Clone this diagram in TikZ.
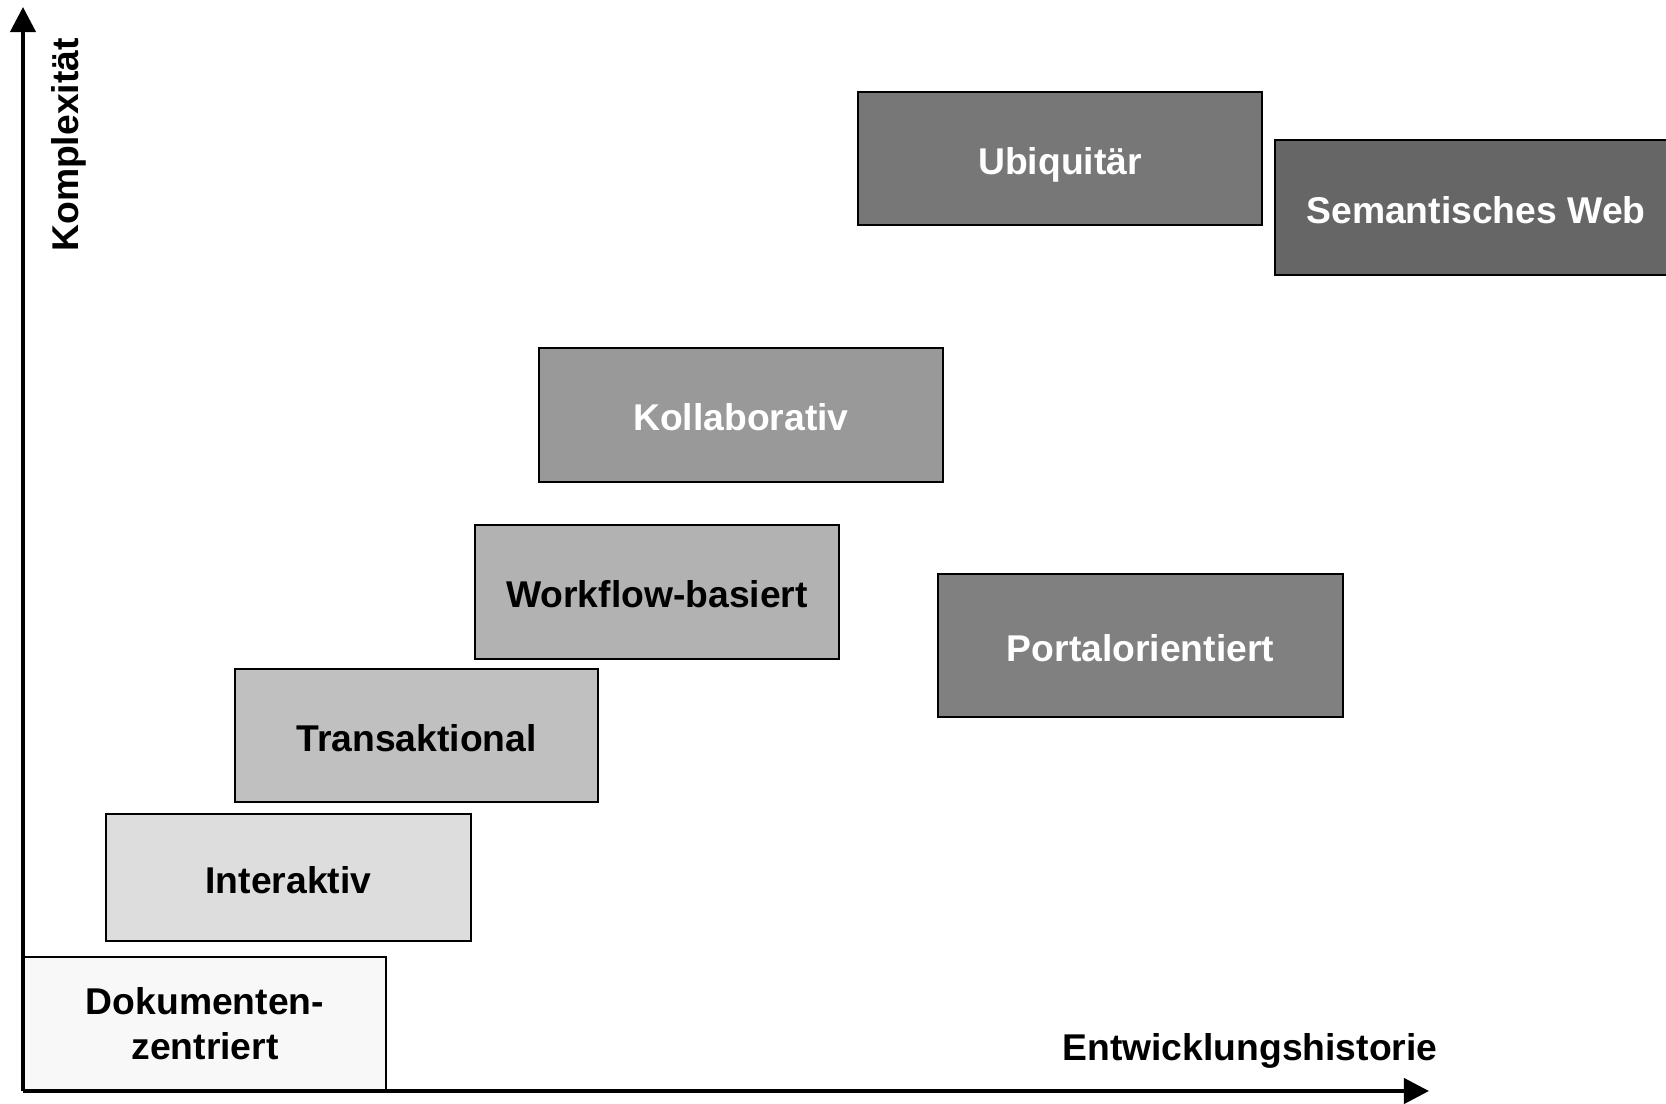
\documentclass[tikz,border=0pt]{standalone}
\usepackage{fontspec}
\setmainfont{Liberation Sans}
\usetikzlibrary{arrows.meta}
\definecolor{grA}{HTML}{F8F8F8}
\definecolor{grB}{HTML}{DDDDDD}
\definecolor{grC}{HTML}{C0C0C0}
\definecolor{grD}{HTML}{B2B2B2}
\definecolor{grE}{HTML}{999999}
\definecolor{grF}{HTML}{808080}
\definecolor{grG}{HTML}{777777}
\definecolor{grH}{HTML}{666666}
\begin{document}
\begin{tikzpicture}[x=0.01cm,y=-0.01cm,
        font=\fontsize{10.6pt}{12.7pt}\selectfont\bfseries,
        box/.style={draw,line width=0.6pt,inner sep=0pt,align=center,minimum width=3.64cm,minimum height=1.34cm},
        stage/.style={box,text height=1.1em,text depth=0.2em},
        axis/.style={line width=1.15pt,-{Triangle[width=0.25cm,length=0.25cm]}}]
        \useasboundingbox (0,0) rectangle (1666,1104);
        \node[box,fill=grA,minimum width=3.62cm] (A) at (205,1024) {Dokumenten-\\zentriert};
        \node[stage,fill=grB,minimum width=3.65cm,minimum height=1.27cm] (B) at (288.5,877.5) {Interaktiv};
        \node[stage,fill=grC,minimum width=3.63cm,minimum height=1.33cm] (C) at (416.5,735.5) {Transaktional};
        \node[stage,fill=grD] (D) at (657,592) {Workflow-basiert};
        \node[stage,fill=grE,text=white,minimum width=4.04cm] (E) at (741,415) {Kollaborativ};
        \node[stage,fill=grF,text=white,minimum width=4.05cm,minimum height=1.43cm] (F) at (1140.5,645.5) {Portalorientiert};
        \node[stage,fill=grG,text=white,minimum width=4.04cm,minimum height=1.33cm] (G) at (1060,158.5) {Ubiquitär};
        \node[stage,fill=grH,text=white,minimum width=4.02cm,minimum height=1.35cm] (H) at (1476,207.5) {Semantisches Web};

        \coordinate (O) at (23,1091);
        \coordinate (Y) at (23,7);
        \coordinate (X) at (1429,1091);
        \draw[axis] (O) -- (Y);
        \draw[axis] (O) -- (X);
        \node[rotate=90] (K) at (69,145) {Komplexität};
        \node (T) at (1250,1051) {Entwicklungshistorie};
    \end{tikzpicture}
\end{document}
